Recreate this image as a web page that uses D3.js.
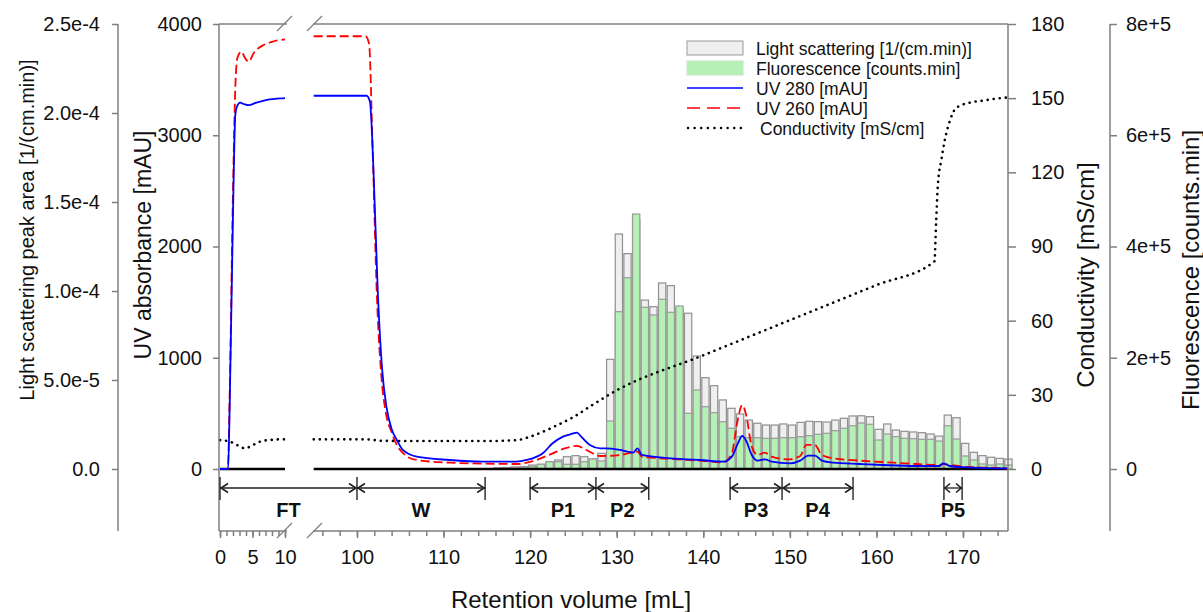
<!DOCTYPE html>
<html>
<head>
<meta charset="utf-8">
<script src="https://cdn.jsdelivr.net/npm/d3@7"></script>
<style>
  body { margin: 0; background: #fff; }
  svg text { font-family: "Liberation Sans", Arial, sans-serif; }
</style>
</head>
<body>
<svg id="grafico" width="1203" height="612"></svg>
<script>
// Fracciones recogidas: volumen central [mL]
var fraccionVol = [116.25, 117.25, 118.25, 119.25, 120.25, 121.25, 122.25, 123.25, 124.25, 125.25,
                   126.25, 127.25, 128.25, 129.25, 130.25, 131.25, 132.25, 133.25, 134.25, 135.25,
                   136.25, 137.25, 138.25, 139.25, 140.25, 141.25, 142.25, 143.25, 144.25, 145.25,
                   146.25, 147.25, 148.25, 149.25, 150.25, 151.25, 152.25, 153.25, 154.25, 155.25,
                   156.25, 157.25, 158.25, 159.25, 160.25, 161.25, 162.25, 163.25, 164.25, 165.25,
                   166.25, 167.25, 168.25, 169.25, 170.25, 171.25, 172.25, 173.25, 174.25, 175.25];
// Light scattering [1/(cm.min)]
var dispersionLuz = [0.06e-5, 0.08e-5, 0.11e-5, 0.14e-5, 0.22e-5, 0.26e-5, 0.41e-5, 0.51e-5, 0.69e-5, 0.75e-5,
                     0.69e-5, 0.56e-5, 0.88e-5, 6.16e-5, 13.2e-5, 12.1e-5, 14.0e-5, 9.49e-5, 9.12e-5, 10.45e-5,
                     10.3e-5, 8.99e-5, 8.75e-5, 6.35e-5, 5.13e-5, 4.68e-5, 3.88e-5, 3.41e-5, 3.09e-5, 2.75e-5,
                     2.57e-5, 2.47e-5, 2.47e-5, 2.53e-5, 2.47e-5, 2.62e-5, 2.68e-5, 2.66e-5, 2.64e-5, 2.75e-5,
                     2.85e-5, 2.98e-5, 2.99e-5, 2.94e-5, 2.23e-5, 2.53e-5, 2.19e-5, 2.12e-5, 2.08e-5, 2.04e-5,
                     1.97e-5, 1.85e-5, 3.03e-5, 2.88e-5, 1.44e-5, 0.94e-5, 0.75e-5, 0.66e-5, 0.60e-5, 0.56e-5];
// Fluorescence [counts.min]
var fluorescencia = [1800, 2700, 3600, 3600, 4100, 8500, 13100, 13100, 8500, 8500,
                     13100, 18000, 14400, 86300, 282800, 343900, 458400, 290700, 276900, 305100,
                     281700, 293000, 100100, 142000, 112000, 101200, 85000, 73200, 58100, 56300,
                     56300, 55200, 55200, 56300, 56300, 58100, 59900, 62400, 64200, 68900,
                     73200, 77800, 82700, 80400, 52100, 62900, 58100, 55200, 54500, 53400,
                     53400, 50300, 77800, 53900, 23400, 16200, 9000, 7200, 9000, 7200];

// UV 280 [mAU]: tramo de carga (0-10 mL) y elucion (95-175 mL)
var uv280FT = [[0, 0], [1.25, 0], [1.5, 600], [2.0, 2300], [2.35, 3180], [2.6, 3257], [3.1, 3293],
               [3.7, 3280], [4.4, 3270], [5.5, 3290], [7.2, 3317], [9.7, 3332], [10, 3333]];
var uv280 = [[95, 3355], [101.1, 3355], [101.5, 3300], [101.9, 2700], [102.4, 1600], [102.9, 900],
             [103.4, 560], [104, 360], [104.6, 261], [105.3, 171], [106.9, 111], [110.7, 81], [114.5, 66],
             [118.4, 66], [119.6, 81], [121.5, 144], [122.6, 231], [123.8, 291], [124.8, 315], [125.4, 327],
             [125.9, 291], [126.9, 216], [128.1, 186], [128.8, 186], [130.4, 171], [131.9, 147], [132.4, 186],
             [132.9, 126], [135, 105], [138.1, 87], [139.6, 81], [142.3, 66], [143.3, 111], [144, 231],
             [144.5, 297], [145, 246], [145.6, 126], [146.3, 75], [147.1, 87], [147.9, 66], [150, 51],
             [151.2, 75], [152.1, 120], [152.9, 120], [153.7, 75], [155, 57], [158.1, 45], [160.7, 36],
             [164.6, 27], [167.3, 27], [167.7, 51], [168.5, 27], [170.4, 15], [174.2, 6], [175.2, 5]];
// UV 260 [mAU]
var uv260FT = [[0, 0], [1.2, 0], [1.5, 700], [2.0, 2500], [2.4, 3500], [2.7, 3700], [3.3, 3751],
               [3.8, 3700], [4.4, 3661], [5.2, 3740], [6.7, 3811], [8, 3840], [10, 3862]];
var uv260 = [[95, 3890], [101, 3890], [101.4, 3820], [101.8, 2900], [102.3, 1550], [102.8, 850],
             [103.3, 520], [104, 330], [104.6, 216], [105.5, 130], [106.9, 81], [110.7, 57], [114.5, 48],
             [118.5, 45], [120.3, 70], [122.6, 141], [124, 185], [125.4, 207], [126.5, 171], [128.1, 117],
             [130.4, 126], [132.4, 156], [132.9, 111], [135, 96], [139.6, 75], [142.3, 60], [143.3, 141],
             [143.9, 411], [144.5, 575], [145, 470], [145.6, 201], [146.3, 126], [147.1, 147], [147.9, 111],
             [149.7, 87], [151.2, 117], [151.9, 216], [152.9, 216], [153.7, 126], [155, 96], [158.1, 75],
             [160.7, 63], [164.6, 45], [167.3, 36], [167.7, 45], [168.3, 40], [170, 21], [173, 12], [175.2, 3]];
// Conductivity [mS/cm]
var conductFT = [[0, 11.7], [1.5, 11.1], [2.6, 9.7], [3.8, 8.4], [4.6, 9.0], [5.6, 10.4], [6.7, 11.5],
                 [7.7, 11.7], [9, 12.0], [10, 12.0]];
var conduct = [[95, 12.0], [101, 12.0], [103, 11.4], [110, 11.3], [115, 11.3], [118.5, 11.7], [120, 13.1],
               [121.5, 15.1], [123, 17.5], [125, 21], [127, 25.5], [130, 31.8], [140, 46], [150, 60.2],
               [160, 74.4], [166.7, 84], [166.9, 100], [167.1, 115], [167.5, 125], [167.9, 133], [168.5, 141],
               [169.2, 146], [170.8, 148.2], [172.3, 149], [173.4, 149.6], [175.2, 150.3]];

// Marcas de los ejes
var ticksLS = [0, 5e-5, 1e-4, 1.5e-4, 2e-4, 2.5e-4];
var ticksUV = [0, 1000, 2000, 3000, 4000];
var ticksCond = [0, 30, 60, 90, 120, 150, 180];
var ticksFl = [0, 2e5, 4e5, 6e5, 8e5];
var ticksXFT = [0, 5, 10];
var ticksXEl = [100, 110, 120, 130, 140, 150, 160, 170];

// Tramos anotados bajo el eje cero [mL]
var tramosNombre = ["FT", "W", "P1", "P2", "P3", "P4", "P5"];
var tramosIni = [0, 100, 120, 127.6, 143.1, 149.1, 167.8];
var tramosFin = [100, 114.8, 127.6, 133.7, 149.1, 157.3, 169.9];

var gris = "#7f7f7f";
var verde = "#b5f0b5";
var svg = d3.select("#grafico");

var yTop = 24, yCero = 469, yBase = 531;

// Eje X partido: carga 0-10 mL y elucion 95-175 mL
var xFT = d3.scaleLinear().domain([0, 10]).range([220, 285]);
var xEl = d3.scaleLinear().domain([95, 175.2]).range([313.7, 1008]);
function xPos(v) { return v <= 10.5 ? xFT(v) : xEl(v); }

var yUV = d3.scaleLinear().domain([0, 4000]).range([yCero, yTop]);
var yLS = d3.scaleLinear().domain([0, 2.5e-4]).range([yCero, yTop]);
var yCond = d3.scaleLinear().domain([0, 180]).range([yCero, yTop]);
var yFl = d3.scaleLinear().domain([0, 8e5]).range([yCero, yTop]);

// Barras: primero dispersion de luz, encima fluorescencia
var anchoBarra = 0.84;
var gBarras = svg.append("g");
gBarras.selectAll("rect.ls")
    .data(fraccionVol)
    .enter()
    .append("rect")
    .attr("class", "ls")
    .attr("x", d => xEl(d - anchoBarra / 2))
    .attr("width", xEl(anchoBarra) - xEl(0))
    .attr("y", (d, i) => yLS(dispersionLuz[i]))
    .attr("height", (d, i) => yCero - yLS(dispersionLuz[i]))
    .attr("fill", "#efefef")
    .attr("stroke", "#8f8f8f")
    .attr("stroke-width", 1.2);
gBarras.selectAll("rect.fl")
    .data(fraccionVol)
    .enter()
    .append("rect")
    .attr("class", "fl")
    .attr("x", d => xEl(d - anchoBarra / 2))
    .attr("width", xEl(anchoBarra) - xEl(0))
    .attr("y", (d, i) => yFl(fluorescencia[i]))
    .attr("height", (d, i) => yCero - yFl(fluorescencia[i]))
    .attr("fill", verde)
    .attr("stroke", "#9a9a9a")
    .attr("stroke-width", 1.2);

// Linea de cero
[[0, 10], [95, 175.2]].forEach(function (r) {
    svg.append("line")
        .attr("x1", xPos(r[0])).attr("x2", xPos(r[1]))
        .attr("y1", yCero).attr("y2", yCero)
        .attr("stroke", "#000").attr("stroke-width", 2.5);
});

// Curvas
function curva(datos, escalaX, escalaY, color, ancho, guiones, remate) {
    var linea = d3.line()
        .x(d => escalaX(d[0]))
        .y(d => escalaY(d[1]))
        .curve(d3.curveMonotoneX);
    svg.append("path")
        .datum(datos)
        .attr("d", linea)
        .attr("fill", "none")
        .attr("stroke", color)
        .attr("stroke-width", ancho)
        .attr("stroke-dasharray", guiones)
        .attr("stroke-linecap", remate || "butt");
}
curva(conductFT, xFT, yCond, "#000", 2.6, "0.1,6", "round");
curva(conduct, xEl, yCond, "#000", 2.6, "0.1,6", "round");
curva(uv260FT, xFT, yUV, "#ff0000", 1.8, "9,4");
curva(uv260, xEl, yUV, "#ff0000", 1.8, "9,4");
curva(uv280FT, xFT, yUV, "#0000ff", 1.8, null);
curva(uv280, xEl, yUV, "#0000ff", 1.8, null);

// Lineas de los ejes
function lineaV(x, y1, y2) {
    svg.append("line").attr("x1", x).attr("x2", x).attr("y1", y1).attr("y2", y2)
        .attr("stroke", gris).attr("stroke-width", 1.5);
}
function lineaH(x1, x2, y) {
    svg.append("line").attr("x1", x1).attr("x2", x2).attr("y1", y).attr("y2", y)
        .attr("stroke", gris).attr("stroke-width", 1.5);
}
lineaV(118, yTop, yBase);
lineaV(219, yTop, yBase);
lineaV(1008, yTop, yBase);
lineaV(1110, yTop, yBase);
lineaH(219, 287, yTop);
lineaH(313, 1008, yTop);
lineaH(219, 287, yBase);
lineaH(313, 1008, yBase);

// Marcas de corte
[yTop, yBase].forEach(function (y) {
    [277, 307].forEach(function (x) {
        svg.append("line")
            .attr("x1", x).attr("y1", y + 7)
            .attr("x2", x + 15).attr("y2", y - 8)
            .attr("stroke", gris).attr("stroke-width", 1.3);
    });
});

function estiloEje(g, tam) {
    g.attr("font-size", null).attr("font-family", null);
    g.select(".domain").remove();
    g.selectAll(".tick line").attr("stroke", gris).attr("stroke-width", 1.5);
    g.selectAll(".tick text").attr("fill", "#111").style("font-size", (tam || 20) + "px");
}

// Ejes verticales
svg.append("g").attr("transform", "translate(118,0)")
    .call(d3.axisLeft(yLS).tickValues(ticksLS).tickSize(6).tickPadding(12)
        .tickFormat(d => d === 0 ? "0.0" : d3.format(".1e")(d)))
    .call(g => estiloEje(g));
svg.append("g").attr("transform", "translate(219,0)")
    .call(d3.axisLeft(yUV).tickValues(ticksUV).tickSize(6).tickPadding(11).tickFormat(d3.format("d")))
    .call(g => estiloEje(g));
svg.append("g").attr("transform", "translate(1008,0)")
    .call(d3.axisRight(yCond).tickValues(ticksCond).tickSize(8).tickPadding(15))
    .call(g => estiloEje(g));
svg.append("g").attr("transform", "translate(1110,0)")
    .call(d3.axisRight(yFl).tickValues(ticksFl).tickSize(7).tickPadding(9)
        .tickFormat(d => d === 0 ? "0" : d3.format(".0e")(d)))
    .call(g => estiloEje(g));

// Eje X: marcas menores y mayores en los dos tramos
svg.append("g").attr("transform", "translate(0," + yBase + ")")
    .call(d3.axisBottom(xFT).tickValues(d3.range(0, 11, 1)).tickSize(5).tickFormat(""))
    .call(g => estiloEje(g));
svg.append("g").attr("transform", "translate(0," + yBase + ")")
    .call(d3.axisBottom(xEl).tickValues(d3.range(96, 175, 2)).tickSize(5).tickFormat(""))
    .call(g => estiloEje(g));
svg.append("g").attr("transform", "translate(0," + yBase + ")")
    .call(d3.axisBottom(xFT).tickValues(ticksXFT).tickSize(7))
    .call(g => estiloEje(g))
    .selectAll(".tick text").attr("y", 33).attr("dy", 0);
svg.append("g").attr("transform", "translate(0," + yBase + ")")
    .call(d3.axisBottom(xEl).tickValues(ticksXEl).tickSize(7))
    .call(g => estiloEje(g))
    .selectAll(".tick text").attr("y", 33).attr("dy", 0);

// Tramos FT, W, P1..P5
var yFlecha = 488;
var gTramos = svg.append("g");
var limites = Array.from(new Set(tramosIni.concat(tramosFin)));
gTramos.selectAll("line.lim")
    .data(limites)
    .enter()
    .append("line")
    .attr("x1", d => xPos(d)).attr("x2", d => xPos(d))
    .attr("y1", 477).attr("y2", 500)
    .attr("stroke", "#333").attr("stroke-width", 1.5);
tramosNombre.forEach(function (nombre, i) {
    var xa = xPos(tramosIni[i]), xb = xPos(tramosFin[i]);
    var punta = Math.min(8, (xb - xa) / 3);
    gTramos.append("line")
        .attr("x1", xa).attr("x2", xb)
        .attr("y1", yFlecha).attr("y2", yFlecha)
        .attr("stroke", "#222").attr("stroke-width", 1.3);
    gTramos.append("path")
        .attr("d", "M" + (xa + punta) + "," + (yFlecha - 4.5) + "L" + (xa + 1) + "," + yFlecha + "L" + (xa + punta) + "," + (yFlecha + 4.5)
            + "M" + (xb - punta) + "," + (yFlecha - 4.5) + "L" + (xb - 1) + "," + yFlecha + "L" + (xb - punta) + "," + (yFlecha + 4.5))
        .attr("fill", "none")
        .attr("stroke", "#222")
        .attr("stroke-width", 1.6);
    gTramos.append("text")
        .attr("x", (xa + xb) / 2)
        .attr("y", 517)
        .attr("text-anchor", "middle")
        .style("font-weight", "bold")
        .style("font-size", "20px")
        .attr("fill", "#111")
        .text(nombre);
});

// Titulos de los ejes
function tituloV(texto, xc, yc, tam) {
    svg.append("text")
        .attr("transform", "translate(" + (xc + tam * 0.36) + "," + yc + ") rotate(-90)")
        .attr("text-anchor", "middle")
        .style("font-size", tam + "px")
        .attr("fill", "#111")
        .text(texto);
}
tituloV("Light scattering peak area [1/(cm.min)]", 27, 230, 20);
tituloV("UV absorbance [mAU]", 143, 245, 23);
tituloV("Conductivity [mS/cm]", 1085, 275, 24);
tituloV("Fluorescence [counts.min]", 1190, 270, 24);
svg.append("text")
    .attr("x", 571).attr("y", 608)
    .attr("text-anchor", "middle")
    .style("font-size", "24px")
    .attr("fill", "#111")
    .text("Retention volume [mL]");

// Leyenda
var leyendaTexto = ["Light scattering [1/(cm.min)]", "Fluorescence [counts.min]", "UV 280 [mAU]", "UV 260 [mAU]", "Conductivity [mS/cm]"];
var gLey = svg.append("g");
gLey.append("rect").attr("x", 687).attr("y", 41).attr("width", 56).attr("height", 14)
    .attr("fill", "#efefef").attr("stroke", "#999").attr("stroke-width", 1);
gLey.append("rect").attr("x", 687).attr("y", 61).attr("width", 56).attr("height", 14)
    .attr("fill", verde).attr("stroke", "#c8e8c8").attr("stroke-width", 1);
gLey.append("line").attr("x1", 687).attr("x2", 743).attr("y1", 88).attr("y2", 88)
    .attr("stroke", "#0000ff").attr("stroke-width", 1.6);
gLey.append("line").attr("x1", 687).attr("x2", 743).attr("y1", 108).attr("y2", 108)
    .attr("stroke", "#ff0000").attr("stroke-width", 1.6).attr("stroke-dasharray", "13,7");
gLey.append("line").attr("x1", 688).attr("x2", 741).attr("y1", 128).attr("y2", 128)
    .attr("stroke", "#000").attr("stroke-width", 2.4).attr("stroke-dasharray", "0.1,6.5").attr("stroke-linecap", "round");
gLey.selectAll("text")
    .data(leyendaTexto)
    .enter()
    .append("text")
    .attr("x", (d, i) => i === 4 ? 760 : 756)
    .attr("y", (d, i) => 55 + i * 20)
    .style("font-size", "17.5px")
    .attr("fill", "#111")
    .text(d => d);
</script>
</body>
</html>
